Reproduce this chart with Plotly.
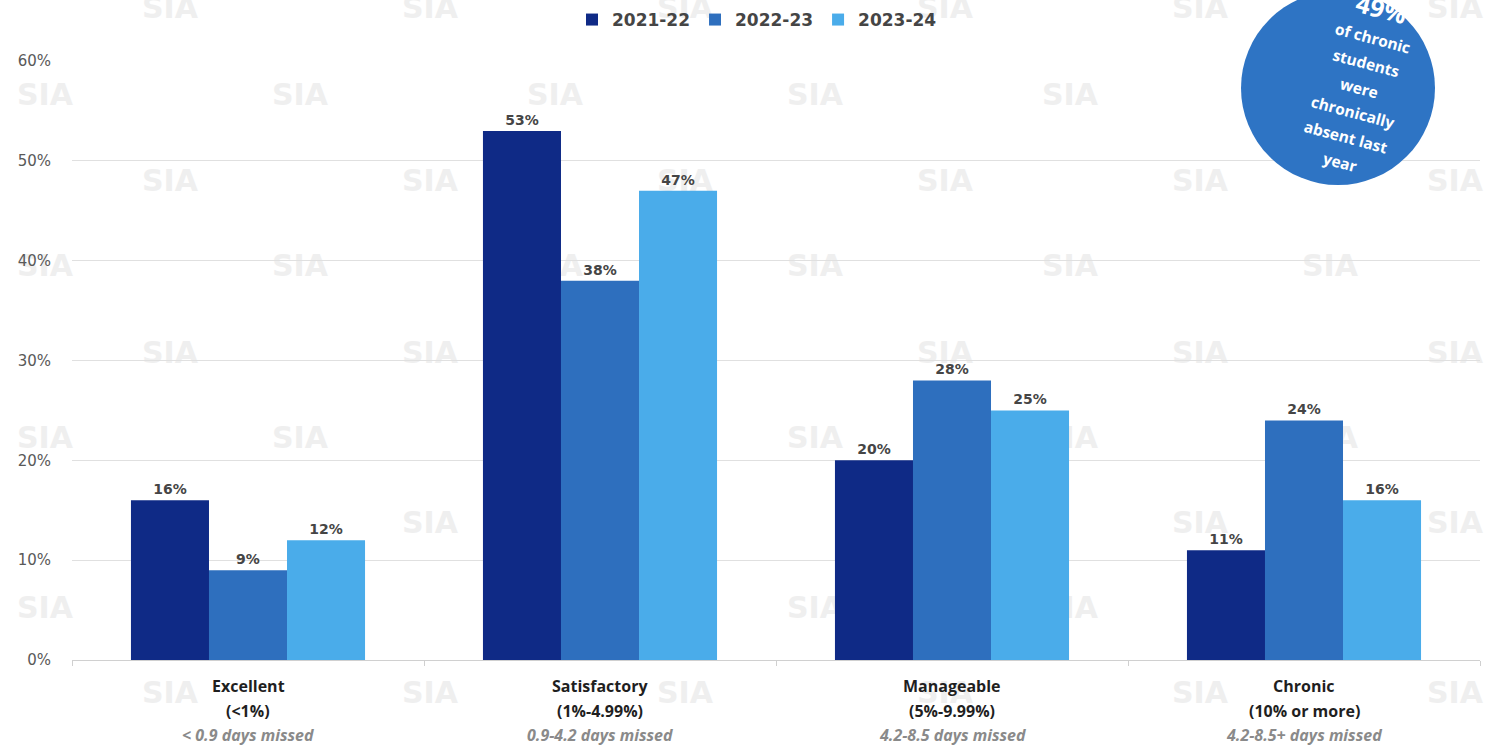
import math
import plotly.graph_objects as go

# Attendance bands and their series
categories = ["Excellent", "Satisfactory", "Manageable", "Chronic"]
band_ranges = ["(&lt;1%)", "(1%-4.99%)", "(5%-9.99%)", "(10% or more)"]
days_missed = ["&lt; 0.9 days missed", "0.9-4.2 days missed", "4.2-8.5 days missed", "4.2-8.5+ days missed"]

years = ["2021-22", "2022-23", "2023-24"]
values_2021_22 = [16, 53, 20, 11]
values_2022_23 = [9, 38, 28, 24]
values_2023_24 = [12, 47, 25, 16]
series_values = [values_2021_22, values_2022_23, values_2023_24]
colors = ["#0f2a86", "#2e6fbe", "#4aacea"]

y_ticks = [0, 10, 20, 30, 40, 50, 60]
y_tick_labels = ["0%", "10%", "20%", "30%", "40%", "50%", "60%"]

callout_value = "49%"
callout_lines = ["of chronic", "students", "were", "chronically", "absent last", "year"]

W, H = 1506, 746
M_L, M_R, M_T, M_B = 72, 26, 61, 86
PLOT_W = W - M_L - M_R
PLOT_H = H - M_T - M_B


def px_x(px):
    return (px - M_L) / PLOT_W


def px_y(py):
    return (H - M_B - py) / PLOT_H


FONT = "Open Sans"
WIDE = "DejaVu Sans"

fig = go.Figure()
for name, vals, col in zip(years, series_values, colors):
    fig.add_trace(go.Bar(
        name=name, x=categories, y=vals, marker=dict(color=col, line=dict(width=0)),
        text=[f"{v}%" for v in vals], textposition="outside", cliponaxis=False,
        textfont=dict(family=WIDE, size=14, color="#454545", weight="bold"),
        hoverinfo="skip",
    ))

shapes = []
# faint "SIA" watermark tiles behind the bars
wm_rows = [5, 92, 178, 263, 350, 435, 520, 605, 690]
for i, ry in enumerate(wm_rows):
    xs = [170, 430, 685, 945, 1200, 1455] if i % 2 == 0 else [45, 300, 555, 815, 1070, 1330]
    for rx in xs:
        shapes.append(dict(
            type="rect", xref="paper", yref="paper", layer="below",
            x0=px_x(rx - 50), x1=px_x(rx + 50), y0=px_y(ry + 16), y1=px_y(ry - 16),
            line=dict(width=0), fillcolor="rgba(0,0,0,0)",
            label=dict(text="<b>SIA</b>", textposition="middle center",
                       font=dict(family=WIDE, size=30, color="#efefef")),
        ))

# callout bubble
cx, cy, r = 1338, 88, 97
shapes.append(dict(
    type="circle", xref="paper", yref="paper", layer="above",
    x0=px_x(cx - r), x1=px_x(cx + r), y0=px_y(cy + r), y1=px_y(cy - r),
    fillcolor="#2e74c4", line=dict(width=0),
))

annotations = []
# rotated callout text
ang = 15
first = (1381, 8)
step = 25.5
for k, line in enumerate([callout_value] + callout_lines):
    d = step * k + (6 if k > 0 else 0)
    lx = first[0] - d * math.sin(math.radians(ang))
    ly = first[1] + d * math.cos(math.radians(ang))
    annotations.append(dict(
        xref="paper", yref="paper", x=px_x(lx), y=px_y(ly), xanchor="center", yanchor="middle",
        text=f"<b>{line}</b>", showarrow=False, textangle=ang,
        font=dict(family=FONT, size=25 if k == 0 else 15.5, color="white"),
    ))

# category labels under the axis
for cat, rng, days in zip(categories, band_ranges, days_missed):
    annotations.append(dict(xref="x", yref="paper", x=cat, y=px_y(686), yanchor="middle",
                            text=f"<b>{cat}</b>", showarrow=False,
                            font=dict(family=FONT, size=16, color="#1f1f1f")))
    annotations.append(dict(xref="x", yref="paper", x=cat, y=px_y(711), yanchor="middle",
                            text=f"<b>{rng}</b>", showarrow=False,
                            font=dict(family=FONT, size=16, color="#1f1f1f")))
    annotations.append(dict(xref="x", yref="paper", x=cat, y=px_y(735), yanchor="middle",
                            text=f"<b><i>{days}</i></b>", showarrow=False,
                            font=dict(family=FONT, size=16, color="#8a8a8a")))

fig.update_layout(
    width=W, height=H, margin=dict(l=M_L, r=M_R, t=M_T, b=M_B, autoexpand=False),
    paper_bgcolor="white", plot_bgcolor="white",
    barmode="group", bargap=0.335, bargroupgap=0,
    font=dict(family=FONT, color="#404040"),
    legend=dict(orientation="h", x=px_x(757), xanchor="center", y=px_y(20), yanchor="middle",
                font=dict(family=WIDE, size=17, color="#454545", weight="bold"),
                itemwidth=30, traceorder="normal", bgcolor="rgba(0,0,0,0)"),
    xaxis=dict(showticklabels=False, ticks="outside", tickson="boundaries", ticklen=5,
               tickcolor="#d0d0d0", showline=True, linecolor="#d0d0d0", linewidth=1,
               showgrid=False),
    yaxis=dict(range=[0, 60], tickvals=y_ticks, ticktext=y_tick_labels,
               showgrid=True, gridcolor="#e0e0e0", gridwidth=1, zeroline=False,
               tickfont=dict(family=WIDE, size=15, color="#595959"),
               ticklabelstandoff=20, showline=False),
    shapes=shapes, annotations=annotations,
    showlegend=True,
)

fig.write_html("out.html")
